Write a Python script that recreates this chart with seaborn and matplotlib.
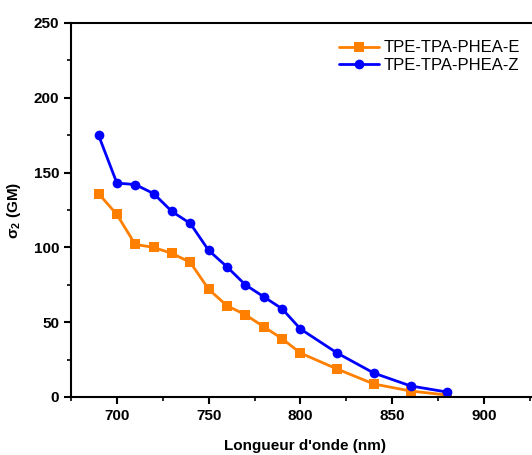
import matplotlib
matplotlib.use("Agg")
import matplotlib.pyplot as plt
from matplotlib.ticker import MultipleLocator
import seaborn as sns
import pandas as pd

wavelength = [690, 700, 710, 720, 730, 740, 750, 760, 770, 780, 790, 800, 820, 840, 860, 880]
sigma_E = [136, 122, 102, 100, 96, 90, 72, 61, 55, 47, 39, 29.4, 18.7, 8.7, 4, 1.3]
sigma_Z = [175, 143, 142, 136, 124, 116, 98, 87, 75, 67, 59, 45.5, 29.4, 16, 7.4, 3.3]
series = ["TPE-TPA-PHEA-E", "TPE-TPA-PHEA-Z"]

df = pd.DataFrame({
    "x": wavelength * 2,
    "y": sigma_E + sigma_Z,
    "s": [series[0]] * len(wavelength) + [series[1]] * len(wavelength),
})

sns.set_style("ticks")
plt.rcParams['font.family'] = ['Liberation Sans', 'DejaVu Sans']
plt.rcParams['font.weight'] = 'bold'
plt.rcParams['mathtext.fontset'] = 'custom'
plt.rcParams['mathtext.rm'] = 'Liberation Sans'
plt.rcParams['mathtext.it'] = 'Liberation Sans'
plt.rcParams['text.color'] = 'black'
plt.rcParams['axes.labelcolor'] = 'black'
plt.rcParams['xtick.color'] = 'black'
plt.rcParams['ytick.color'] = 'black'
plt.rcParams['axes.edgecolor'] = 'black'

fig = plt.figure(figsize=(5.32, 4.55), dpi=100)
ax = fig.add_axes([71/532, 58/455, (539-71)/532, (397-23)/455])

sns.lineplot(data=df, x="x", y="y", hue="s", style="s",
             palette={series[0]: "#FF7F00", series[1]: "#0000FF"},
             markers={series[0]: "s", series[1]: "o"},
             dashes=False, markersize=7, markeredgewidth=0, linewidth=2, ax=ax)

ax.set_xlim(675, 930)
ax.set_ylim(0, 250)
ax.xaxis.set_major_locator(MultipleLocator(50))
ax.xaxis.set_minor_locator(MultipleLocator(25))
ax.yaxis.set_major_locator(MultipleLocator(50))
ax.yaxis.set_minor_locator(MultipleLocator(25))
ax.tick_params(which="major", direction="out", length=5, width=1.5, labelsize=11, colors="black")
ax.tick_params(which="minor", direction="out", length=3, width=1.2, colors="black")
for lbl in ax.get_xticklabels() + ax.get_yticklabels():
    lbl.set_fontweight("bold")
for side in ["left", "bottom", "top"]:
    ax.spines[side].set_linewidth(1.5)
    ax.spines[side].set_color("black")
    ax.spines[side].set_visible(True)
ax.spines["right"].set_visible(False)

ax.set_xlabel("Longueur d'onde (nm)", fontsize=11, fontweight="bold", labelpad=12, color="black")
ax.set_ylabel(r"$\mathregular{\sigma_2}$ (GM)", fontsize=11, fontweight="bold", labelpad=8, color="black")

leg = ax.legend(title=None, frameon=False, loc="upper right",
                bbox_to_anchor=(0.982, 0.98), fontsize=12, handlelength=2.4,
                handletextpad=0.3, borderaxespad=0.2, labelspacing=0.15)
for t in leg.get_texts():
    t.set_fontweight("normal")
    t.set_color("black")

fig.savefig("out.png", dpi=100)
